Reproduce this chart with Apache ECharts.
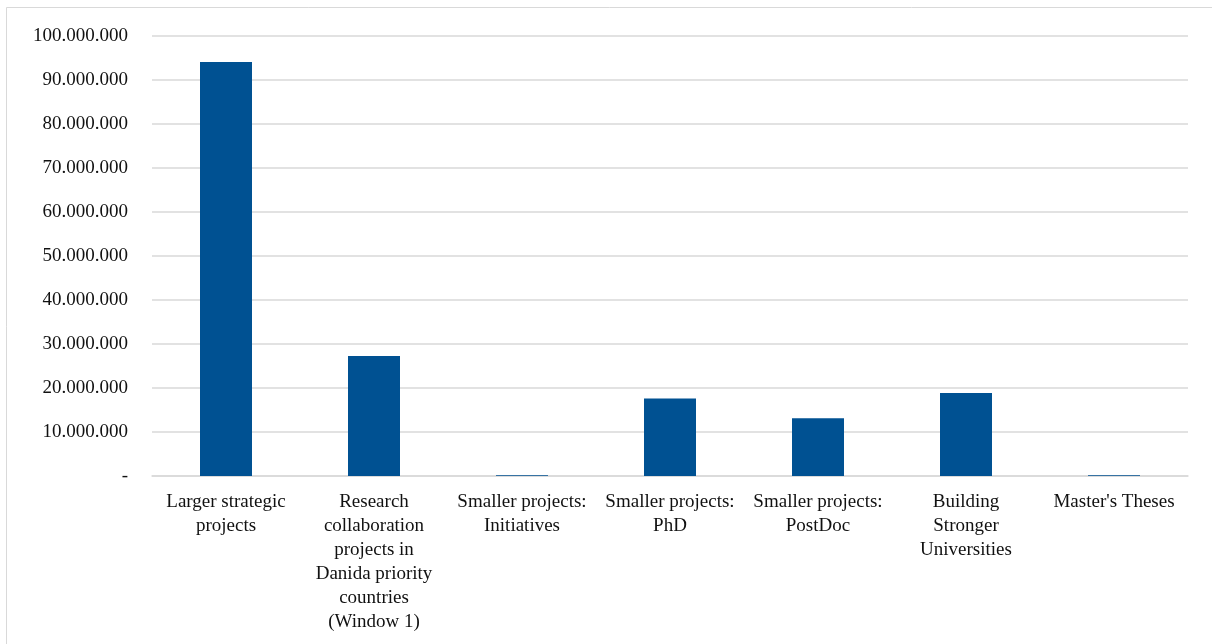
<!DOCTYPE html>
<html>
<head>
<meta charset="utf-8">
<script src="https://cdn.jsdelivr.net/npm/echarts@6/dist/echarts.min.js"></script>
<style>
  html, body { margin: 0; padding: 0; background: #fff; }
  #chart { width: 1212px; height: 644px; }
</style>
</head>
<body>
<div id="chart"></div>
<script>
// Funding per programme window (DKK)
const categories = [
  "Larger strategic\nprojects",
  "Research\ncollaboration\nprojects in\nDanida priority\ncountries\n(Window 1)",
  "Smaller projects:\nInitiatives",
  "Smaller projects:\nPhD",
  "Smaller projects:\nPostDoc",
  "Building\nStronger\nUniversities",
  "Master's Theses"
];
const amounts = [94100000, 27300000, 150000, 17600000, 13100000, 18850000, 150000];

const yMin = 0;
const yMax = 100000000;
const yStep = 10000000;

function formatAmount(v) {
  if (v === 0) return "-";
  return String(Math.round(v)).replace(/\B(?=(\d{3})+(?!\d))/g, ".");
}

const font = "'Liberation Serif', 'DejaVu Serif', serif";
const chart = echarts.init(document.getElementById('chart'));
chart.setOption({
  backgroundColor: '#ffffff',
  animation: false,
  graphic: [{
    type: 'rect',
    shape: { x: 6.5, y: 7.5, width: 1300, height: 700 },
    style: { fill: 'none', stroke: '#d9d9d9', lineWidth: 1 },
    silent: true
  }],
  grid: { left: 152, right: 24, top: 36, bottom: 168 },
  xAxis: {
    type: 'category',
    data: categories,
    axisLine: { show: true, lineStyle: { color: '#d9d9d9', width: 1.5 } },
    axisTick: { show: false },
    axisLabel: {
      interval: 0,
      margin: 14,
      color: '#111111',
      fontFamily: font,
      fontSize: 19,
      lineHeight: 24
    }
  },
  yAxis: {
    type: 'value',
    min: yMin,
    max: yMax,
    interval: yStep,
    axisLine: { show: false },
    axisTick: { show: false },
    splitLine: { lineStyle: { color: '#d9d9d9', width: 1.5 } },
    axisLabel: {
      margin: 24,
      color: '#111111',
      fontFamily: font,
      fontSize: 19,
      formatter: formatAmount
    }
  },
  series: [{
    type: 'bar',
    data: amounts,
    barWidth: 52,
    itemStyle: { color: '#005192' }
  }]
});
</script>
</body>
</html>
